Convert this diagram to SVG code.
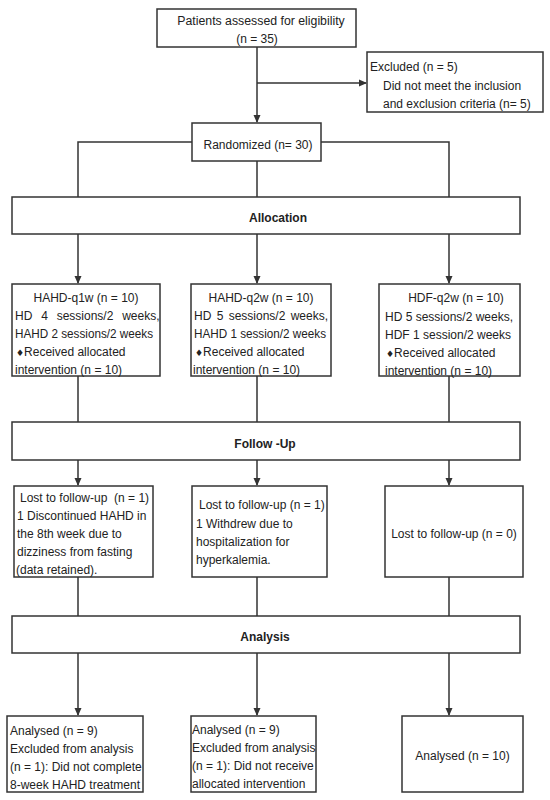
<svg xmlns="http://www.w3.org/2000/svg" width="550" height="800" viewBox="0 0 550 800">
<style>
.box{fill:#fff;stroke:#333;stroke-width:1.5}
.ln{fill:none;stroke:#333;stroke-width:1.5}
text{font-family:"Liberation Sans",Arial,sans-serif;font-size:12px;fill:#222}
.c{text-anchor:middle}
.b{font-weight:bold}
.dm{font-family:"DejaVu Sans",sans-serif;font-size:9px}
</style>
<defs>
<marker id="ah" markerWidth="8" markerHeight="8" refX="7" refY="4" orient="auto" markerUnits="userSpaceOnUse">
<path d="M0,0.5 L8,4 L0,7.5 Z" fill="#333"/>
</marker>
</defs>
<rect width="550" height="800" fill="#fff"/>
<g id="connectors">
<path class="ln" d="M257,47 V122" marker-end="url(#ah)"/>
<path class="ln" d="M257,83 H366" marker-end="url(#ah)"/>
<path class="ln" d="M192,142 H78 V197 M321,142 H449 V197 M257,161 V197"/>
<path class="ln" d="M78,234 V283" marker-end="url(#ah)"/>
<path class="ln" d="M257,234 V283" marker-end="url(#ah)"/>
<path class="ln" d="M449,234 V283" marker-end="url(#ah)"/>
<path class="ln" d="M78,376 V422 M257,376 V422 M449,376 V422"/>
<path class="ln" d="M78,460 V485" marker-end="url(#ah)"/>
<path class="ln" d="M257,460 V485" marker-end="url(#ah)"/>
<path class="ln" d="M449,460 V485" marker-end="url(#ah)"/>
<path class="ln" d="M78,577 V616 M257,577 V616 M449,577 V616"/>
<path class="ln" d="M78,653 V715" marker-end="url(#ah)"/>
<path class="ln" d="M257,653 V715" marker-end="url(#ah)"/>
<path class="ln" d="M449,653 V715" marker-end="url(#ah)"/>
</g>
<g id="assessed">
<rect class="box" x="157" y="9" width="199" height="38"/>
<text class="c" x="261" y="24.5" style="font-size:12.3px">Patients assessed for eligibility</text>
<text class="c" x="257" y="43">(n = 35)</text>
</g>
<g id="excluded">
<rect class="box" x="367" y="52" width="176" height="60"/>
<text x="370" y="71">Excluded (n = 5)</text>
<text x="383" y="89.5">Did not meet the inclusion</text>
<text x="383" y="107.5">and exclusion criteria (n= 5)</text>
</g>
<g id="randomized">
<rect class="box" x="192" y="123" width="129" height="38"/>
<text class="c" x="258" y="148.5">Randomized (n= 30)</text>
</g>
<g id="allocation">
<rect class="box" x="12" y="197" width="508" height="37"/>
<text class="c b" x="278" y="222">Allocation</text>
</g>
<g id="hahd-q1w">
<rect class="box" x="12" y="284" width="148" height="92"/>
<text class="c" x="86" y="301.5">HAHD-q1w (n = 10)</text>
<text x="15" y="319.5" word-spacing="5.5">HD 4 sessions/2 weeks,</text>
<text x="15" y="337.5" textLength="138" lengthAdjust="spacingAndGlyphs">HAHD 2 sessions/2 weeks</text>
<text x="16" y="355.5"><tspan class="dm">♦</tspan>Received allocated</text>
<text x="15" y="373.5">intervention (n = 10)</text>
</g>
<g id="hahd-q2w">
<rect class="box" x="191" y="284" width="140" height="92"/>
<text class="c" x="261" y="301.5">HAHD-q2w (n = 10)</text>
<text x="194" y="319.5" word-spacing="2">HD 5 sessions/2 weeks,</text>
<text x="194" y="337.5" textLength="132" lengthAdjust="spacingAndGlyphs">HAHD 1 session/2 weeks</text>
<text x="195" y="355.5"><tspan class="dm">♦</tspan>Received allocated</text>
<text x="193" y="373.5">intervention (n = 10)</text>
</g>
<g id="hdf-q2w">
<rect class="box" x="379" y="284" width="141" height="92"/>
<text class="c" x="456" y="301.5">HDF-q2w (n = 10)</text>
<text x="385" y="320.5">HD 5 sessions/2 weeks,</text>
<text x="385" y="338.5">HDF 1 session/2 weeks</text>
<text x="386" y="356.5"><tspan class="dm">♦</tspan>Received allocated</text>
<text x="385" y="374.5">intervention (n = 10)</text>
</g>
<g id="followup">
<rect class="box" x="12" y="422" width="508" height="38"/>
<text class="c b" x="265" y="448">Follow -Up</text>
</g>
<g id="lost1">
<rect class="box" x="14" y="486" width="139" height="91"/>
<text x="20" y="501.5" xml:space="preserve">Lost to follow-up  (n = 1)</text>
<text x="17" y="519.5">1 Discontinued HAHD in</text>
<text x="17" y="537.5">the 8th week due to</text>
<text x="17" y="555.5">dizziness from fasting</text>
<text x="16" y="573.5">(data retained).</text>
</g>
<g id="lost2">
<rect class="box" x="192" y="486" width="135" height="91"/>
<text x="199" y="508.5">Lost to follow-up (n = 1)</text>
<text x="196" y="527.5">1 Withdrew due to</text>
<text x="196" y="545.5">hospitalization for</text>
<text x="196" y="563.5">hyperkalemia.</text>
</g>
<g id="lost3">
<rect class="box" x="385" y="486" width="138" height="91"/>
<text class="c" x="454" y="537.5">Lost to follow-up (n = 0)</text>
</g>
<g id="analysis">
<rect class="box" x="12" y="616" width="508" height="37"/>
<text class="c b" x="265" y="641">Analysis</text>
</g>
<g id="analysed1">
<rect class="box" x="7" y="716" width="136" height="76"/>
<text x="10" y="734.5">Analysed (n = 9)</text>
<text x="10" y="752.5">Excluded from analysis</text>
<text x="10" y="771">(n = 1): Did not complete</text>
<text x="10" y="789">8-week HAHD treatment</text>
</g>
<g id="analysed2">
<rect class="box" x="191" y="716" width="125" height="76"/>
<text x="192" y="733.5">Analysed (n = 9)</text>
<text x="192" y="751.5">Excluded from analysis</text>
<text x="192" y="770">(n = 1): Did not receive</text>
<text x="192" y="788">allocated intervention</text>
</g>
<g id="analysed3">
<rect class="box" x="402" y="716" width="121" height="76"/>
<text class="c" x="462.5" y="760">Analysed (n = 10)</text>
</g>
</svg>
